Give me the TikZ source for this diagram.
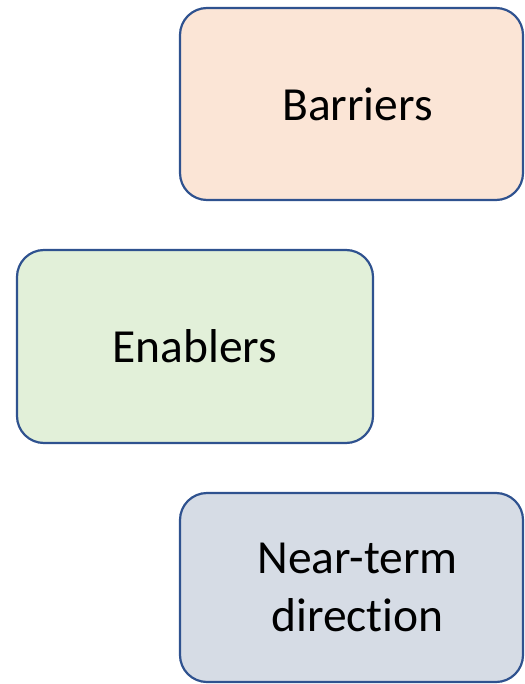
\documentclass[tikz,border=0pt]{standalone}
\usepackage{fontspec}
\setmainfont[Ligatures=NoCommon]{Carlito}
\definecolor{edgeblue}{HTML}{2F528F}
\definecolor{peach}{HTML}{FBE5D6}
\definecolor{mint}{HTML}{E2F0D9}
\definecolor{slate}{HTML}{D6DCE5}
\begin{document}
\begin{tikzpicture}[x=1pt,y=1pt,
  card/.style={draw=edgeblue, line width=2.2pt, rounded corners=27pt, rectangle,
    minimum width=343pt, minimum height=192pt, inner sep=0pt, align=center,
    font=\fontsize{47.5}{58}\selectfont, text=black}]
\useasboundingbox (0,0) rectangle (524,-684);
\node[card, fill=peach] (barriers) at (351.5,-104) {\hspace*{12pt}Barriers};
\node[card, fill=mint, minimum width=356pt, minimum height=193pt] (enablers) at (195,-346.5) {Enablers};
\node[card, fill=slate, minimum height=189pt] (nearterm) at (351.5,-587.5) {\hspace*{12pt}Near-term\\\hspace*{12pt}direction};
\end{tikzpicture}
\end{document}
